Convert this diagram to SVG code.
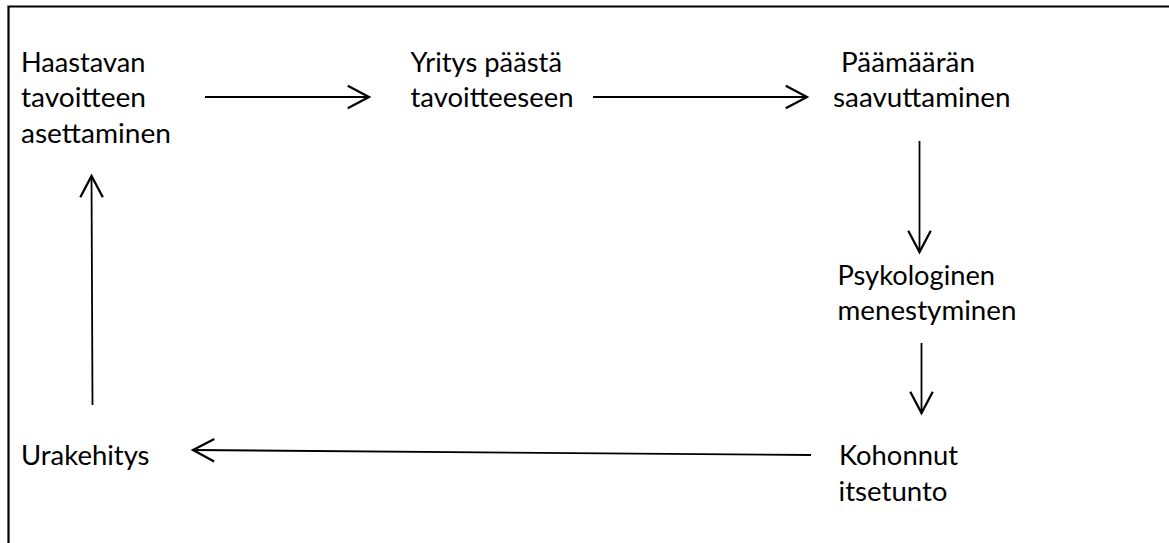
<svg xmlns="http://www.w3.org/2000/svg" width="1169" height="543" viewBox="0 0 1169 543">
  <style>
    .lbl { font-family: Lato, "Open Sans", "Liberation Sans", sans-serif; font-size: 27px; fill: #000; }
    .frame { stroke: #000; stroke-width: 2.2; fill: none; }
    .conn { stroke: #000; stroke-width: 1.8; fill: none; marker-end: url(#chev); }
  </style>
  <defs>
    <!-- open chevron arrowhead -->
    <marker id="chev" markerUnits="userSpaceOnUse" markerWidth="30" markerHeight="30" viewBox="-20 -12 24 24" refX="0" refY="0" orient="auto">
      <path d="M-17,-9 L0,0 L-17,9" stroke="#000" stroke-width="1.8" fill="none"/>
    </marker>
  </defs>

  <rect width="1169" height="543" fill="#fff"/>

  <!-- frame: top and left edges -->
  <path class="frame" d="M8.5,543 L8.5,6.5 L1169,6.5"/>

  <g id="connectors">
    <line class="conn" x1="205" y1="97" x2="369" y2="97"/>
    <line class="conn" x1="593" y1="97" x2="807" y2="97"/>
    <line class="conn" x1="919.5" y1="141" x2="919.5" y2="252"/>
    <line class="conn" x1="921.5" y1="343" x2="921.5" y2="413"/>
    <line class="conn" x1="811" y1="455" x2="193" y2="450"/>
    <line class="conn" x1="92.5" y1="405" x2="91.5" y2="176"/>
  </g>

  <g id="node-tavoitteen-asettaminen">
    <text class="lbl" x="21" y="72" textLength="124.5" lengthAdjust="spacingAndGlyphs">Haastavan</text>
    <text class="lbl" x="21" y="107" textLength="125" lengthAdjust="spacingAndGlyphs">tavoitteen</text>
    <text class="lbl" x="21" y="142.5" textLength="150" lengthAdjust="spacingAndGlyphs">asettaminen</text>
  </g>

  <g id="node-yritys">
    <text class="lbl" x="410.5" y="72" textLength="151.5" lengthAdjust="spacingAndGlyphs">Yritys päästä</text>
    <text class="lbl" x="410.5" y="107" textLength="163" lengthAdjust="spacingAndGlyphs">tavoitteeseen</text>
  </g>

  <g id="node-paamaara">
    <text class="lbl" x="841" y="71.5" textLength="134" lengthAdjust="spacingAndGlyphs">Päämäärän</text>
    <text class="lbl" x="833" y="107" textLength="177.5" lengthAdjust="spacingAndGlyphs">saavuttaminen</text>
  </g>

  <g id="node-psykologinen">
    <text class="lbl" x="837.5" y="284.5" textLength="157.5" lengthAdjust="spacingAndGlyphs">Psykologinen</text>
    <text class="lbl" x="837.5" y="320" textLength="179" lengthAdjust="spacingAndGlyphs">menestyminen</text>
  </g>

  <g id="node-itsetunto">
    <text class="lbl" x="839" y="465" textLength="119" lengthAdjust="spacingAndGlyphs">Kohonnut</text>
    <text class="lbl" x="838.5" y="501" textLength="109" lengthAdjust="spacingAndGlyphs">itsetunto</text>
  </g>

  <g id="node-urakehitys">
    <text class="lbl" x="21" y="465" textLength="128.5" lengthAdjust="spacingAndGlyphs">Urakehitys</text>
  </g>
</svg>
